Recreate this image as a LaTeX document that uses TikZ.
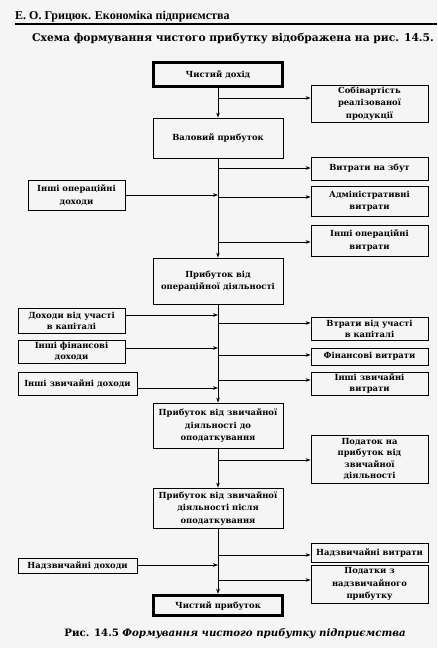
\documentclass[tikz,border=0pt]{standalone}
\usepackage{fontspec}
\setmainfont{Liberation Serif}
\newfontfamily\bxfont{DejaVu Serif}
\usetikzlibrary{arrows.meta}
\begin{document}
\begin{tikzpicture}[x=1pt,y=-1pt,
  box/.style={draw, line width=0.9pt, inner sep=0pt, align=center,
    font=\bxfont\bfseries\fontsize{8.4}{12.5}\selectfont},
  tight/.style={font=\bxfont\bfseries\fontsize{8.4}{11}\selectfont},
  dbox/.style={draw, line width=2.6pt, inner sep=0pt, align=center,
    font=\bxfont\bfseries\fontsize{8.4}{12.5}\selectfont},
  inner/.style={line width=0.7pt},
  arr/.style={line width=0.6pt, -{Stealth[length=5pt,width=3.6pt]}},
  rule/.style={line width=1.3pt}]
\fill[black!4] (0,0) rectangle (437,648);
\useasboundingbox (0,0) rectangle (437,648);

% header
\node[anchor=base west, inner sep=0pt, font=\bfseries\fontsize{12}{14}\selectfont] (hdr) at (15,19) {Е. О. Грицюк. Економіка підприємства};
\coordinate (rl) at (15,24);
\coordinate (rr) at (437,24);
\draw[rule] (rl) -- (rr);
\node[anchor=base, inner sep=0pt, font=\bxfont\bfseries\fontsize{10.7}{13}\selectfont] (ttl) at (233,41) {Схема формування чистого прибутку відображена на рис. 14.5.};

% central column
\node[dbox, minimum width=130, minimum height=25] (cd) at (218,74.5) {Чистий дохід};
\node[box, minimum width=130, minimum height=40] (vp) at (218,138) {Валовий прибуток};
\node[box, minimum width=130, minimum height=46] (po) at (218,281) {Прибуток від\\операційної діяльності};
\node[box, minimum width=130, minimum height=45] (pdo) at (218,425.5) {Прибуток від звичайної\\діяльності до\\оподаткування};
\node[box, minimum width=130, minimum height=40] (ppo) at (218,508) {Прибуток від звичайної\\діяльності після\\оподаткування};
\node[dbox, minimum width=130, minimum height=21] (cp) at (218,605.5) {Чистий прибуток};
\draw[inner] ([shift={(2.6pt,-2.6pt)}]cd.north west) rectangle ([shift={(-2.6pt,2.6pt)}]cd.south east);
\draw[inner] ([shift={(2.6pt,-2.6pt)}]cp.north west) rectangle ([shift={(-2.6pt,2.6pt)}]cp.south east);

% right column
\node[box, minimum width=117, minimum height=37] (sob) at (369.5,103.5) {Собівартість\\реалізованої\\продукції};
\node[box, minimum width=117, minimum height=23] (vz) at (369.5,168.5) {Витрати на збут};
\node[box, minimum width=117, minimum height=30] (adm) at (369.5,201) {Адміністративні\\витрати};
\node[box, minimum width=117, minimum height=31] (iov) at (369.5,240.5) {Інші операційні\\витрати};
\node[box, tight, minimum width=117, minimum height=23] (vuk) at (369.5,328.5) {Втрати від участі\\в капіталі};
\node[box, minimum width=117, minimum height=17] (fv) at (369.5,356.5) {Фінансові витрати};
\node[box, tight, minimum width=117, minimum height=23] (izv) at (369.5,383.5) {Інші звичайні\\витрати};
\node[box, minimum width=117, minimum height=48, font=\bxfont\bfseries\fontsize{8.4}{11.5}\selectfont] (pod) at (369.5,459) {Податок на\\прибуток від\\звичайної\\діяльності};
\node[box, minimum width=117, minimum height=19] (nv) at (369.5,552.5) {Надзвичайні витрати};
\node[box, minimum width=117, minimum height=38] (pnp) at (369.5,584) {Податки з\\надзвичайного\\прибутку};

% left column
\node[box, minimum width=97, minimum height=30] (iod) at (76.5,195) {Інші операційні\\доходи};
\node[box, tight, minimum width=107, minimum height=25] (duk) at (71.5,320.5) {Доходи від участі\\в капіталі};
\node[box, tight, minimum width=107, minimum height=23] (ifd) at (71.5,351.5) {Інші фінансові\\доходи};
\node[box, minimum width=119, minimum height=23] (izd) at (77.5,383.5) {Інші звичайні доходи};
\node[box, minimum width=119, minimum height=15] (nd) at (77.5,565.5) {Надзвичайні доходи};

% trunk
\draw[arr] (cd.south) -- (vp.north);
\draw[arr] (vp.south) -- (po.north);
\draw[arr] (po.south) -- (pdo.north);
\draw[arr] (pdo.south) -- (ppo.north);
\draw[arr] (ppo.south) -- (cp.north);

% branch points
\coordinate (b1) at (218,98);
\coordinate (b2) at (218,168);
\coordinate (b3) at (218,195);
\coordinate (b4) at (218,197);
\coordinate (b5) at (218,242);
\coordinate (b6) at (218,315);
\coordinate (b7) at (218,323);
\coordinate (b8) at (218,348);
\coordinate (b9) at (218,355);
\coordinate (b10) at (218,380);
\coordinate (b11) at (218,388);
\coordinate (b12) at (218,460);
\coordinate (b13) at (218,555);
\coordinate (b14) at (218,565);
\coordinate (b15) at (218,580);

% outgoing (right)
\draw[arr] (b1) -- (b1 -| sob.west);
\draw[arr] (b2) -- (b2 -| vz.west);
\draw[arr] (b4) -- (b4 -| adm.west);
\draw[arr] (b5) -- (b5 -| iov.west);
\draw[arr] (b7) -- (b7 -| vuk.west);
\draw[arr] (b9) -- (b9 -| fv.west);
\draw[arr] (b10) -- (b10 -| izv.west);
\draw[arr] (b12) -- (b12 -| pod.west);
\draw[arr] (b13) -- (b13 -| nv.west);
\draw[arr] (b15) -- (b15 -| pnp.west);

% incoming (left)
\draw[arr] (b3 -| iod.east) -- (b3);
\draw[arr] (b6 -| duk.east) -- (b6);
\draw[arr] (b8 -| ifd.east) -- (b8);
\draw[arr] (b11 -| izd.east) -- (b11);
\draw[arr] (b14 -| nd.east) -- (b14);

% caption
\node[anchor=base, inner sep=0pt, font=\bxfont\bfseries\fontsize{10.2}{12}\selectfont] (cap) at (235,636) {Рис. 14.5 \textit{Формування чистого прибутку підприємства}};
\end{tikzpicture}
\end{document}
